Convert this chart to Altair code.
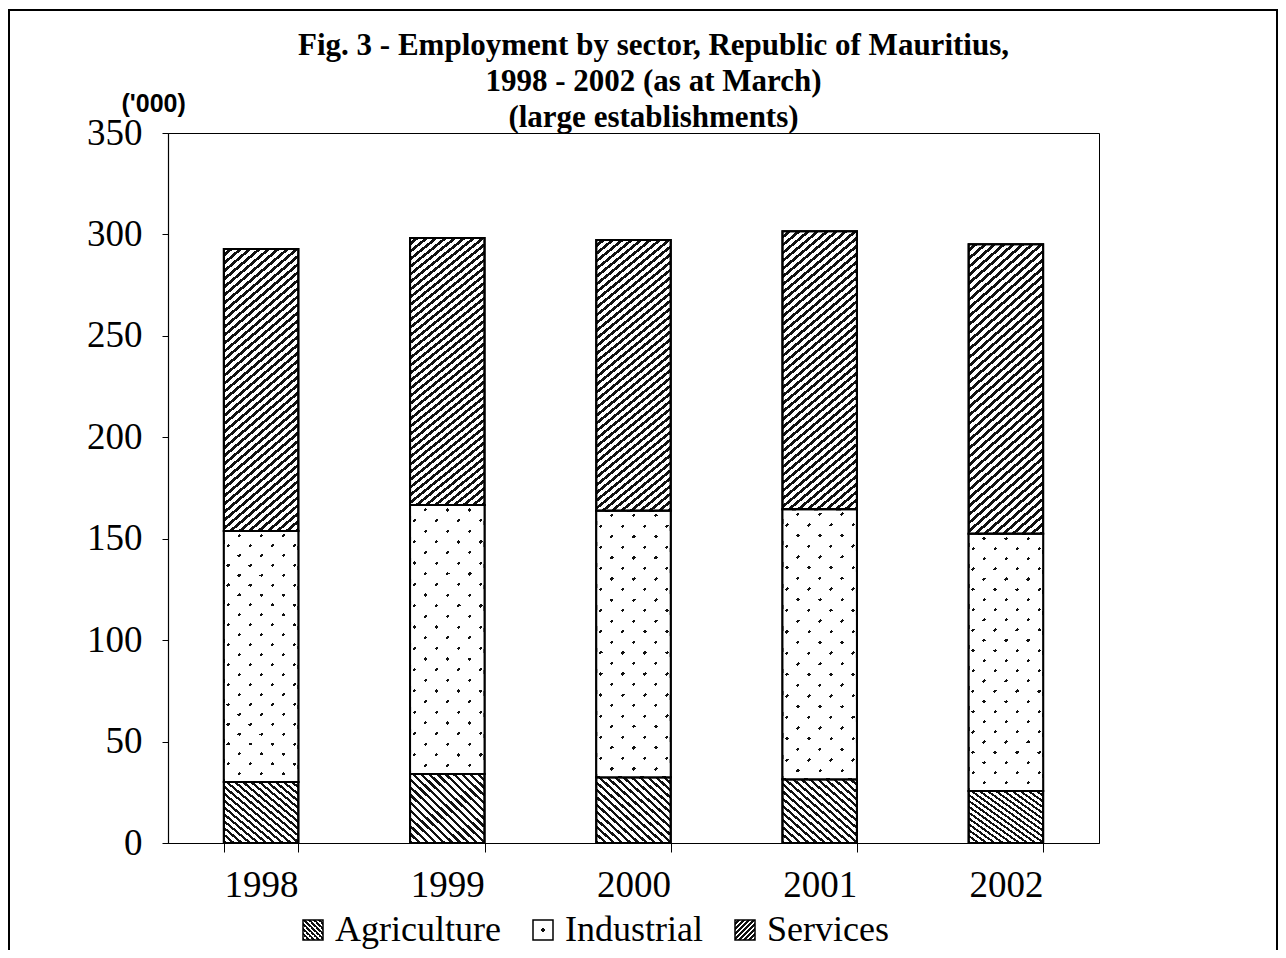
import altair as alt
import pandas as pd

years = ["1998", "1999", "2000", "2001", "2002"]
sectors = ["Agriculture", "Industrial", "Services"]
agriculture = [30.1, 34.0, 32.4, 31.4, 25.6]
industrial = [123.7, 132.6, 131.4, 133.1, 126.8]
services = [139.0, 131.6, 133.5, 137.1, 142.8]
title_lines = [
    "Fig. 3 - Employment by sector, Republic of Mauritius,",
    "1998 - 2002 (as at March)",
    "(large establishments)",
]

rows = []
for i, yr in enumerate(years):
    for k, (s, vals) in enumerate(zip(sectors, [agriculture, industrial, services])):
        rows.append({"year": yr, "sector": s, "value": vals[i], "order": k})
df = pd.DataFrame(rows)

CLEAR = "rgba(255,255,255,0)"


def stripes(direction, r, across, frac=0.42, bg="#ffffff", fg="#111111"):
    """Hatch pattern built as a hard-stop linear gradient (bounding-box units)."""
    b = (r + 1) / (r * r + 1)
    a = r * b
    n = max(1, int(round(across * (a + b) / a)))
    if direction == "/":
        x1, y1, x2, y2 = 0, 0, a, b
    else:
        x1, y1, x2, y2 = 1, 0, 1 - a, b
    stops = []
    for k in range(n):
        s0 = k / n
        s1 = (k + 1 - frac) / n
        s2 = (k + 1) / n
        stops += [(s0, bg), (s1, bg), (s1, fg), (s2, fg)]
    st = ",".join("{offset:%.5f,color:'%s'}" % (o, c) for o, c in stops)
    return {"expr": "{gradient:'linear',x1:%.5f,y1:%.5f,x2:%.5f,y2:%.5f,stops:[%s]}" % (x1, y1, x2, y2, st)}


def dot():
    return {"expr": "{gradient:'radial',x1:0.5,y1:0.5,r1:0,x2:0.5,y2:0.5,r2:0.5,"
                    "stops:[{offset:0,color:'#111111'},{offset:0.2,color:'#111111'},"
                    "{offset:0.2,color:'#ffffff'},{offset:1,color:'#ffffff'}]}"}


# bars: hatch for agriculture / services, thin "/" lines for industrial
bar_fills = [
    stripes("\\", 1.03, 9),
    stripes("/", 0.267, 3.3, frac=0.15),
    stripes("/", 0.226, 8, frac=0.45),
]
# overlay: white with thin clear "\" lines -> only lattice dots stay visible
overlay_fills = [CLEAR, stripes("\\", 0.267, 3.3, frac=0.2, bg="#ffffff", fg=CLEAR), CLEAR]
legend_fills = [stripes("\\", 1.0, 4), dot(), stripes("/", 1.0, 4)]

serif = "Liberation Serif"

x_enc = alt.X(
    "year:O",
    scale=alt.Scale(paddingInner=0.6, paddingOuter=0.3),
    axis=alt.Axis(
        title=None, labelAngle=0, tickBand="extent", tickSize=9,
        labelPadding=15, labelFont=serif, labelFontSize=37,
    ),
)
y_enc = alt.Y(
    "value:Q",
    stack="zero",
    scale=alt.Scale(domain=[0, 350], nice=False),
    axis=alt.Axis(
        title="('000)", titleAngle=0, titleAlign="left", titleBaseline="middle",
        titleX=-47, titleY=-30, titleFont="Liberation Sans", titleFontSize=25,
        titleFontWeight="bold", titleColor="black",
        values=[0, 50, 100, 150, 200, 250, 300, 350], tickSize=6,
        labelPadding=20, labelFont=serif, labelFontSize=37, grid=False,
    ),
)

bars = alt.Chart(df).mark_bar(stroke="black", strokeWidth=2).encode(
    x=x_enc,
    y=y_enc,
    fill=alt.Fill("sector:N", scale=alt.Scale(domain=sectors, range=bar_fills), legend=None),
    order=alt.Order("order:Q"),
)

overlay = alt.Chart(df).mark_bar(stroke="black", strokeWidth=2).encode(
    x=alt.X("year:O"),
    y=alt.Y("value:Q", stack="zero"),
    fill=alt.Fill("sector:N", scale=alt.Scale(domain=sectors, range=overlay_fills), legend=None),
    order=alt.Order("order:Q"),
)

legend_src = alt.Chart(df).mark_square(opacity=0).encode(
    x=alt.X("year:O"),
    y=alt.Y("value:Q"),
    fill=alt.Fill(
        "sector:N",
        scale=alt.Scale(domain=sectors, range=legend_fills),
        legend=alt.Legend(
            title=None, orient="none", legendX=127, legendY=779, direction="horizontal",
            symbolType="square", symbolSize=400, symbolStrokeColor="black",
            symbolStrokeWidth=1.5, symbolOpacity=1, labelFont=serif, labelFontSize=36,
            labelColor="black", labelOffset=4, columnPadding=24, labelLimit=400,
        ),
    ),
)

frame = alt.Chart(alt.Data(values=[{"f": 1}])).mark_rect(
    fill="white", fillOpacity=0, stroke="black", strokeWidth=2
).encode(
    x=alt.value(-159), x2=alt.value(1109), y=alt.value(-123), y2=alt.value(840)
)

chart = alt.layer(frame, bars, overlay, legend_src).resolve_scale(fill="independent").properties(
    width=931,
    height=710,
    autosize="none",
    padding={"left": 160, "top": 125, "right": 179, "bottom": 107},
    title=alt.TitleParams(
        text=title_lines, font=serif, fontSize=31, fontWeight="bold", color="black",
        anchor="middle", dx=20, dy=131, offset=6, lineHeight=36,
    ),
).configure_view(stroke="black", strokeWidth=1).configure_axis(
    domainColor="black", tickColor="black", labelColor="black", domainWidth=1.2
)

chart.save("out.html", embed_options={"renderer": "svg", "actions": False})
